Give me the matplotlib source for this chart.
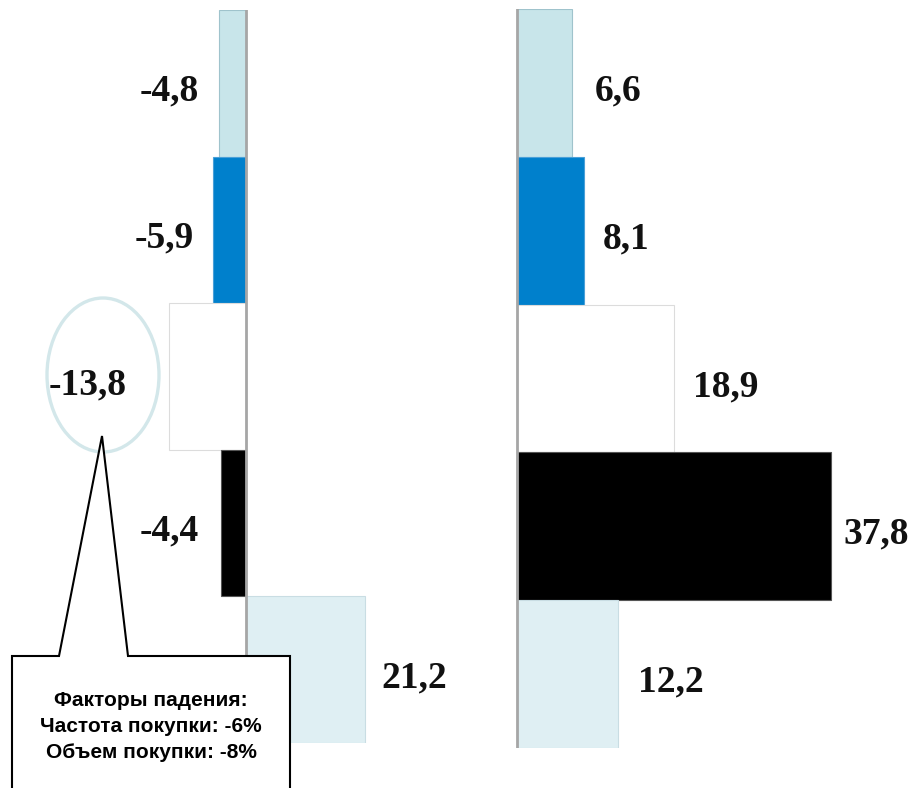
import matplotlib
matplotlib.use('Agg')
import matplotlib.pyplot as plt
from matplotlib.patches import Ellipse, Polygon

# values by segment, top to bottom
LEFT_VALUES = [-4.8, -5.9, -13.8, -4.4, 21.2]
RIGHT_VALUES = [6.6, 8.1, 18.9, 37.8, 12.2]
BAR_COLORS = ['#c8e5ea', '#0080cc', '#ffffff', '#000000', '#dfeff3']
EDGE_COLORS = ['#9fc3cc', '#4aa0d8', '#dcdcdc', '#555555', '#c9dde3']
NOTE_LINES = ['Факторы падения:', 'Частота покупки: -6%', 'Объем покупки: -8%']

# label offsets from bar end, in pixels
LEFT_OFFSETS = [20, 19, 42, 22, 17]
RIGHT_OFFSETS = [23, 19, 19, 13, 20]

W, H = 920, 788
DPI = 100
PX = 72.0 / DPI


def fmt(v):
    return f'{v:.1f}'.replace('.', ',')


def bar_panel(fig, rect, values, xlim, offsets):
    ax = fig.add_axes(rect)
    ypos = list(range(len(values)))
    ax.barh(ypos, values, height=1.0, color=BAR_COLORS, edgecolor=EDGE_COLORS,
            linewidth=0.8, zorder=2)
    ax.axvline(0, color='#a6a6a6', linewidth=2.0, zorder=3)
    ax.set_xlim(xlim)
    ax.set_ylim(len(values) - 0.5, -0.5)
    ax.axis('off')
    for y, v, off in zip(ypos, values, offsets):
        sign = 1 if v > 0 else -1
        ax.annotate(fmt(v), (v, y), xytext=(sign * off * PX, -8 * PX),
                    textcoords='offset points', ha='left' if v > 0 else 'right',
                    va='center', fontsize=27, fontweight='bold',
                    family='Liberation Serif', color='#111111', zorder=4)
    return ax


fig = plt.figure(figsize=(W / DPI, H / DPI), dpi=DPI)

# left panel: zero at x=246 px, 5.6 px per unit
bar_panel(fig, [0, (H - 743) / H, 460 / W, 733 / H], LEFT_VALUES,
          (-246 / 5.6, (460 - 246) / 5.6), LEFT_OFFSETS)
# right panel: zero at x=517 px, 8.3 px per unit
bar_panel(fig, [460 / W, (H - 748) / H, 460 / W, 739 / H], RIGHT_VALUES,
          (-(517 - 460) / 8.3, (920 - 517) / 8.3), RIGHT_OFFSETS)

# overlay in pixel coordinates for the callout
ov = fig.add_axes([0, 0, 1, 1])
ov.set_xlim(0, W)
ov.set_ylim(H, 0)
ov.axis('off')
ov.patch.set_alpha(0)

ov.add_patch(Ellipse((103, 375), 112, 154, fill=False, edgecolor='#d3e7ea',
                     linewidth=2.4, zorder=5))
callout = Polygon([(12, H + 20), (12, 656), (59, 656), (102, 436), (128, 656),
                   (290, 656), (290, H + 20)], closed=True, facecolor='white',
                  edgecolor='black', linewidth=1.5, zorder=6)
ov.add_patch(callout)
for i, line in enumerate(NOTE_LINES):
    ov.text(151, 700 + i * 26.5, line, ha='center', va='center', fontsize=15,
            fontweight='bold', family='Liberation Sans', color='black', zorder=7)

fig.savefig('out.png', dpi=DPI)
